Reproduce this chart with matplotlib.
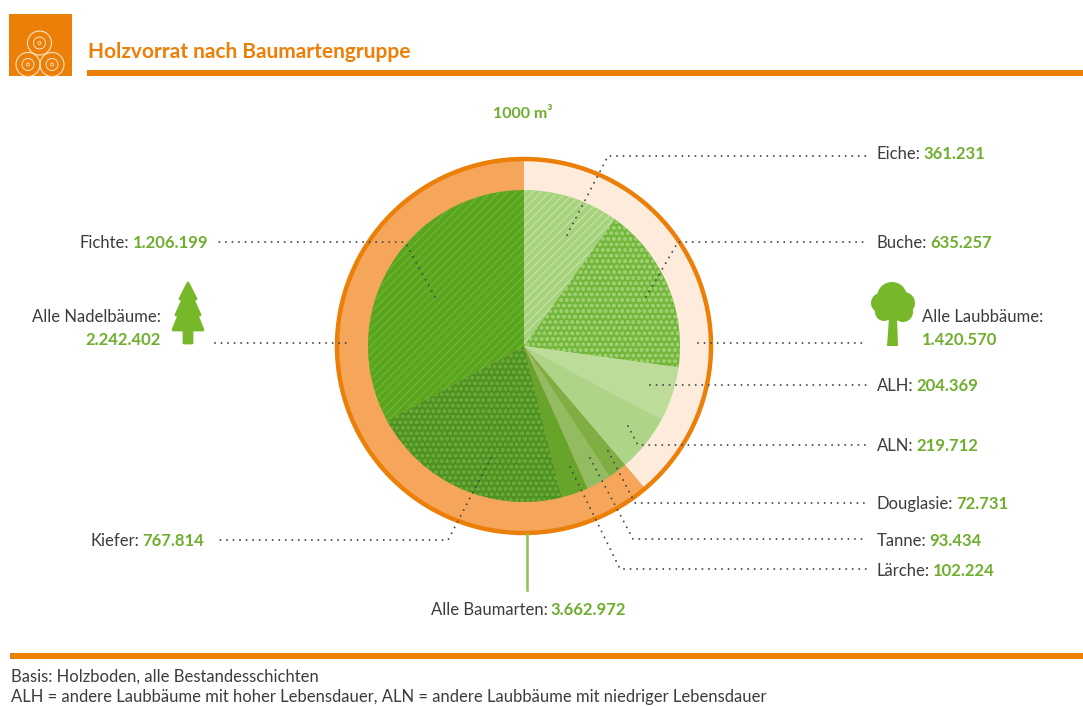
import matplotlib
matplotlib.use("Agg")
import matplotlib.pyplot as plt
from matplotlib.patches import Circle, Polygon, Rectangle

# values in 1000 m3, clockwise from the top
species = ["Eiche", "Buche", "ALH", "ALN", "Douglasie", "Tanne", "Lärche", "Kiefer", "Fichte"]
species_values = [361231, 635257, 204369, 219712, 72731, 93434, 102224, 767814, 1206199]
species_text = ["361.231", "635.257", "204.369", "219.712", "72.731", "93.434", "102.224", "767.814", "1.206.199"]
group_names = ["Alle Laubbäume", "Alle Nadelbäume"]
group_values = [1420570, 2242402]
group_text = ["1.420.570", "2.242.402"]
total_text = "3.662.972"

W, H = 1083, 706
CX, CY = 524, 346
R_IN, R_OUT = 156, 188

ORANGE = "#ec7f07"
GREEN = "#6fae2e"
GREY = "#3c3c3c"
FS = 12

plt.rcParams["font.family"] = ["Lato", "DejaVu Sans"]
plt.rcParams["hatch.linewidth"] = 1.0

fig = plt.figure(figsize=(W / 100, H / 100), dpi=100)
ax = fig.add_axes([0, 0, 1, 1])
ax.set_xlim(0, W)
ax.set_ylim(H, 0)
ax.axis("off")

# header and footer
ax.add_patch(Rectangle((9, 14), 63, 62, color=ORANGE, lw=0))
for x, y in [(39.5, 43), (28, 64.5), (52, 64.5)]:
    for r, lw in [(12, 0.8), (6, 0.7), (1.5, 0.6)]:
        ax.add_patch(Circle((x, y), r, fill=False, ec="#fbe3c4", lw=lw, clip_path=ax.patches[0]))
ax.add_patch(Rectangle((87, 70), W - 87, 6, color=ORANGE, lw=0))
ax.add_patch(Rectangle((10, 653), W - 10, 6, color=ORANGE, lw=0))
ax.text(88, 52, "Holzvorrat nach Baumartengruppe", color=ORANGE, fontsize=15, fontweight="bold", va="center")
ax.text(523, 114, "1000 m³", color=GREEN, fontsize=11.5, fontweight="bold", ha="center", va="center")
ax.text(11, 677, "Basis: Holzboden, alle Bestandesschichten", color=GREY, fontsize=FS, va="center")
ax.text(11, 697, "ALH = andere Laubbäume mit hoher Lebensdauer, ALN = andere Laubbäume mit niedriger Lebensdauer",
        color=GREY, fontsize=FS, va="center")

# pie axes in pixel units, centred on the circle
pad = R_OUT + 4
pie_ax = fig.add_axes([(CX - pad) / W, 1 - (CY + pad) / H, 2 * pad / W, 2 * pad / H])

ring, _ = pie_ax.pie(group_values, radius=R_OUT, startangle=90, counterclock=False,
                     colors=["#fdecdc", "#f5a65b"], wedgeprops={"lw": 0})
pie_ax.add_patch(Circle((0, 0), R_OUT - 1, fill=False, ec=ORANGE, lw=3.2))

fills = ["#a6d27c", "#72b63c", "#bddb99", "#aed488", "#7fae45", "#93bb62", "#66a42a", "#4d9120", "#5aa51f"]
hatches = ["////", "ooo", None, None, None, None, None, "ooo", "////"]
hatch_cols = ["#c2e1a2", "#9ccf6e", None, None, None, None, None, "#6aa83a", "#6db52c"]
wedges, _ = pie_ax.pie(species_values, radius=R_IN, startangle=90, counterclock=False,
                       colors=fills, wedgeprops={"lw": 0})
for w, h, c in zip(wedges, hatches, hatch_cols):
    if h:
        w.set_hatch(h)
        w.set_edgecolor(c)
        w.set_linewidth(0)
pie_ax.set_xlim(-pad, pad)
pie_ax.set_ylim(-pad, pad)
pie_ax.axis("off")

# overlay for leaders, on top of the pie
top = fig.add_axes([0, 0, 1, 1])
top.set_xlim(0, W)
top.set_ylim(H, 0)
top.axis("off")
top.patch.set_alpha(0)


def leader(pts):
    xs = [p[0] for p in pts]
    ys = [p[1] for p in pts]
    top.plot(xs, ys, color="#444444", lw=1.4, ls=(0, (0.01, 3.35)), dash_capstyle="round")


def two_colour(x, y, first, second, align="left"):
    # label in grey and number in green on one line
    rend = fig.canvas.get_renderer()
    t1 = top.text(x, y, first, color=GREY, fontsize=FS, va="center")
    w1 = t1.get_window_extent(rend).width + 3
    t2 = top.text(x + w1, y, second, color=GREEN, fontsize=FS, fontweight="bold", va="center")
    if align == "right":
        w2 = t2.get_window_extent(rend).width
        t1.set_x(x - w1 - w2)
        t2.set_x(x - w2)


leader([(567, 235), (608, 156), (866, 156)])
leader([(646, 297), (678, 242), (866, 242)])
leader([(435, 297), (405, 242), (215, 242)])
leader([(215, 343), (350, 343)])
leader([(698, 343), (866, 343)])
leader([(650, 385), (866, 385)])
leader([(628, 426), (638, 445), (866, 445)])
leader([(608, 451), (635, 503), (866, 503)])
leader([(590, 458), (633, 539), (866, 539)])
leader([(570, 467), (620, 569), (866, 569)])
leader([(491, 458), (448, 540), (215, 540)])
top.plot([527, 527], [534, 590], color="#8cc152", lw=1.8)

label_y = {"Eiche": 154, "Buche": 243, "ALH": 386, "ALN": 446, "Douglasie": 504, "Tanne": 541, "Lärche": 571}
for name, txt in zip(species, species_text):
    if name in label_y:
        two_colour(877, label_y[name], name + ":", txt)
two_colour(208, 243, "Fichte:", species_text[8], align="right")
two_colour(204, 541, "Kiefer:", species_text[7], align="right")
two_colour(431, 610, "Alle Baumarten:", total_text)

top.text(161, 317, group_names[1] + ":", color=GREY, fontsize=FS, ha="right", va="center")
top.text(161, 340, group_text[1], color=GREEN, fontsize=FS, fontweight="bold", ha="right", va="center")
top.text(922, 317, group_names[0] + ":", color=GREY, fontsize=FS, va="center")
top.text(922, 340, group_text[0], color=GREEN, fontsize=FS, fontweight="bold", va="center")

# tree icons
ICON = "#76b82a"
fir = [(188, 283), (196, 299), (193, 299), (200, 315), (197, 315), (203, 330), (192, 330), (192, 343),
       (184, 343), (184, 330), (173, 330), (179, 315), (176, 315), (183, 299), (180, 299)]
top.add_patch(Polygon(fir, closed=True, fc=ICON, ec=ICON, lw=2, joinstyle="round"))
for x, y, r in [(892, 297, 15), (881, 303, 10), (904, 303, 11), (884, 312, 9), (903, 312, 10), (893, 309, 12)]:
    top.add_patch(Circle((x, y), r, fc=ICON, ec="none"))
top.add_patch(Polygon([(889, 318), (897, 318), (898, 346), (887, 346)], closed=True, fc=ICON, ec="none"))

fig.savefig("out.png", dpi=100)
